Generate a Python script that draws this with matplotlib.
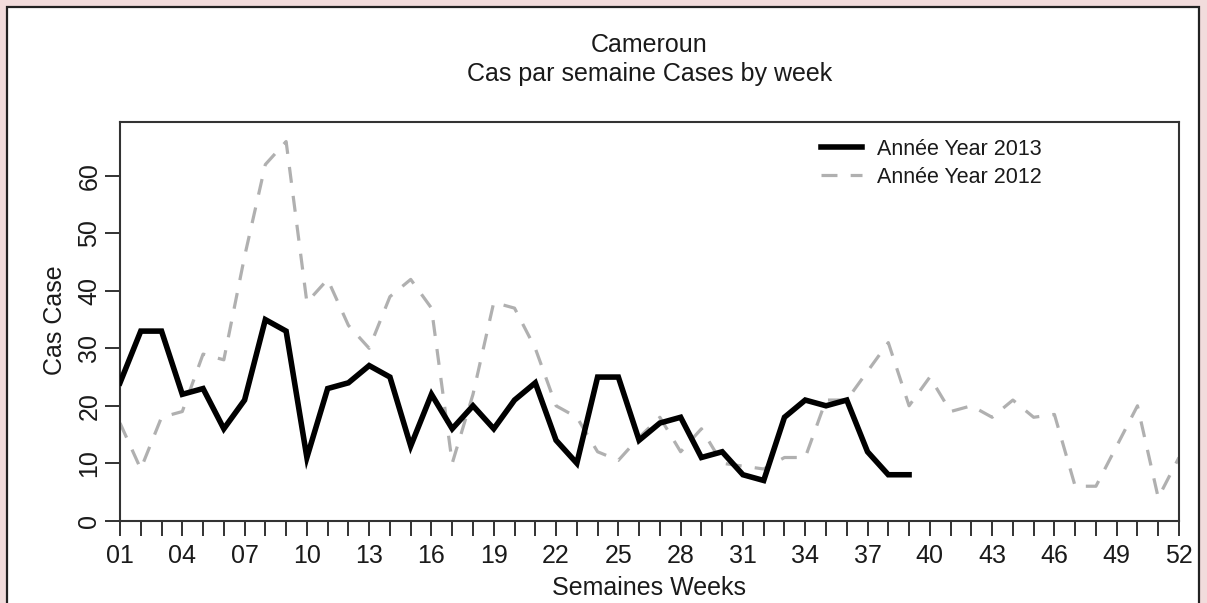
import matplotlib
matplotlib.use("Agg")
import matplotlib.pyplot as plt
from matplotlib.patches import Rectangle

# ---- data ----
weeks = list(range(1, 53))
week_labels = [f"{w:02d}" if (w - 1) % 3 == 0 else "" for w in weeks]
weeks_2013 = list(range(1, 40))
cases_2013 = [24, 33, 33, 22, 23, 16, 21, 35, 33, 11,
              23, 24, 27, 25, 13, 22, 16, 20, 16, 21,
              24, 14, 10, 25, 25, 14, 17, 18, 11, 12,
              8, 7, 18, 21, 20, 21, 12, 8, 8]
cases_2012 = [17, 9, 18, 19, 29, 28, 46, 62, 66, 38,
              42, 34, 30, 39, 42, 37, 10, 22, 38, 37,
              30, 20, 18, 12, 10.5, 14.5, 18, 12, 16, 10,
              9.5, 9, 11, 11, 21, 21, 26, 31, 20, 25,
              19, 20, 18, 21, 18, 18.5, 6, 6, 13, 20,
              4, 11]
y_ticks = [0, 10, 20, 30, 40, 50, 60]
label_2013 = "Année Year 2013"
label_2012 = "Année Year 2012"
title_1 = "Cameroun"
title_2 = "Cas par semaine Cases by week"
x_title = "Semaines Weeks"
y_title = "Cas Case"

plt.rcParams['font.family'] = ['Liberation Sans', 'DejaVu Sans']
plt.rcParams['lines.scale_dashes'] = False

W, H = 1207, 603
fig = plt.figure(figsize=(W / 100, H / 100), dpi=100, facecolor='#f2dcdc')

# white panel with frame
panel = Rectangle((7 / W, -0.02), (1199 - 7) / W, 1 - 7 / H + 0.02,
                  transform=fig.transFigure, facecolor='white',
                  edgecolor='#222222', linewidth=1.6, zorder=-5)
fig.patches.append(panel)

ax = fig.add_axes([120 / W, 1 - 520.7 / H, (1179 - 120) / W, (520.7 - 121.7) / H])
ax.set_zorder(2)
ax.set_facecolor('white')

txt_col = '#1a1a1a'

l12, = ax.plot(weeks, cases_2012, color='#b0b0b0', linewidth=2.3,
               linestyle=(0, (11.5, 9.5)), label=label_2012, zorder=2)
l13, = ax.plot(weeks_2013, cases_2013, color='black', linewidth=4.0,
               solid_joinstyle='miter', label=label_2013, zorder=3)

ax.set_xlim(1, 52)
ax.set_ylim(0, 69.45)
ax.set_xticks(weeks)
ax.set_xticklabels(week_labels)
ax.set_yticks(y_ticks)
ax.set_yticklabels([str(v) for v in y_ticks], rotation=90, va='center')

for s in ax.spines.values():
    s.set_color('#333333')
    s.set_linewidth(1.5)

ax.tick_params(axis='x', direction='out', length=10.5, width=1.3, pad=6,
               labelsize=18, colors='#222222', labelcolor=txt_col)
ax.tick_params(axis='y', direction='out', length=10.5, width=1.3, pad=3,
               labelsize=18, colors='#222222', labelcolor=txt_col)

leg = ax.legend(handles=[l13, l12], loc='upper left',
                bbox_to_anchor=(821 / W, 1 - 139 / H), bbox_transform=fig.transFigure,
                frameon=False, fontsize=15.5, handlelength=1.9, handletextpad=0.72,
                labelspacing=0.32, borderpad=0, borderaxespad=0)
for t in leg.get_texts():
    t.set_color(txt_col)

cx = (120 + 1179) / 2 / W
fig.text(cx, 1 - 45 / H, title_1, ha='center', va='center', fontsize=18, color=txt_col)
fig.text(cx, 1 - 74 / H, title_2, ha='center', va='center', fontsize=18, color=txt_col)
fig.text(cx, 1 - 588 / H, x_title, ha='center', va='center', fontsize=18, color=txt_col)
fig.text(55 / W, 1 - 320 / H, y_title, ha='center', va='center', fontsize=18,
         rotation=90, color=txt_col)

fig.savefig("out.png", dpi=100, facecolor=fig.get_facecolor())
